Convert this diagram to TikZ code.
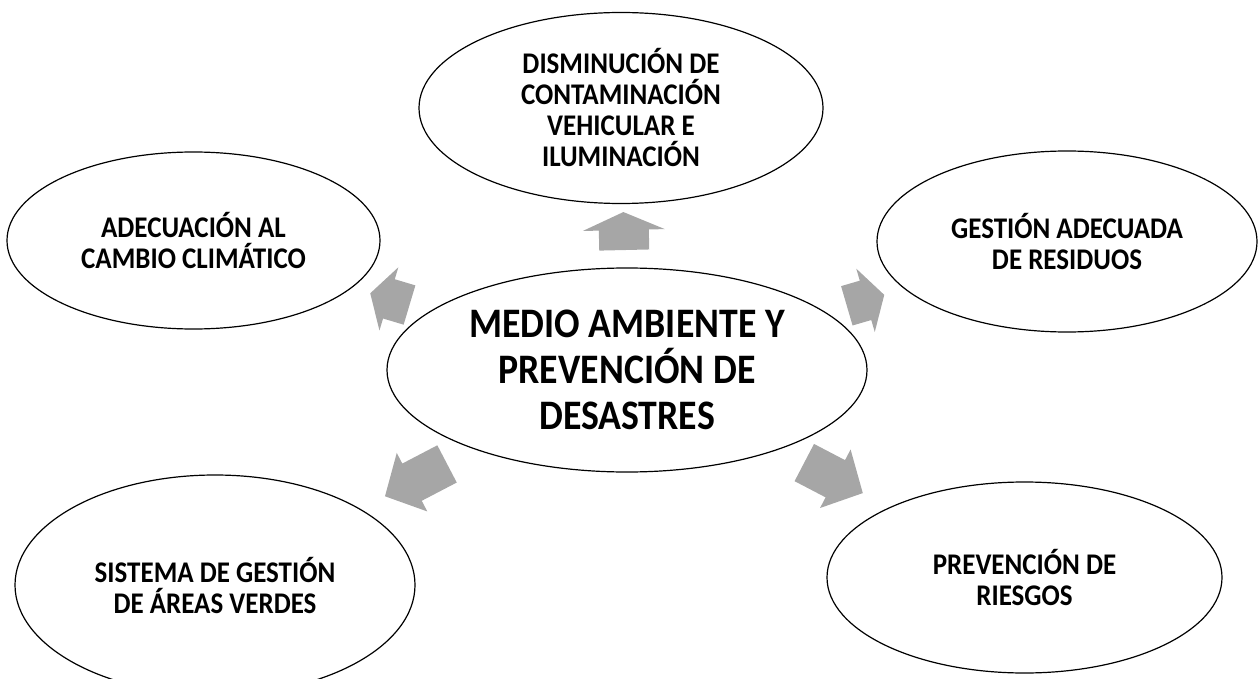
\documentclass[tikz,border=0pt]{standalone}
\usepackage{fontspec}
\setmainfont{Carlito}[FakeStretch=0.9]
\usetikzlibrary{shapes.geometric,positioning,calc}
\definecolor{arrowgray}{HTML}{A6A6A6}
% block arrow from node #1 towards node #2: tail at #3, tip at #4, half shaft #5, half head #6, head length #7
\newcommand{\fatarrow}[7]{%
  \coordinate (a0) at ($(#1)!#3!(#2)$);
  \coordinate (a1) at ($(#1)!#4!(#2)$);
  \coordinate (a2) at ($(a1)!#7!(a0)$);
  \fill[arrowgray] ($(a0)!#5!90:(a1)$) -- ($(a2)!#5!-90:(a0)$) -- ($(a2)!#6!-90:(a0)$) -- (a1)
    -- ($(a2)!#6!90:(a0)$) -- ($(a2)!#5!90:(a0)$) -- ($(a0)!#5!-90:(a1)$) -- cycle;
}
\begin{document}
\begin{tikzpicture}[x=1pt, y=-1pt, on grid, line width=1.2pt,
    main/.style = {draw, ellipse, inner sep=0pt, align=center, fill=white,
      font=\bfseries\fontsize{30}{31}\selectfont},
    hub/.style = {main, font=\bfseries\fontsize{42}{46}\selectfont}]
  \useasboundingbox (0,0) rectangle (1258,679);
  \node[hub, minimum width=480pt, minimum height=204pt] (mid) at (627,370) {MEDIO AMBIENTE Y\\PREVENCIÓN DE\\DESASTRES};
  \node[main, minimum width=404pt, minimum height=191pt] (top) [above left=262pt and 6pt of mid] {DISMINUCIÓN DE\\CONTAMINACIÓN\\VEHICULAR E\\ILUMINACIÓN};
  \node[main, minimum width=373pt, minimum height=177pt] (ul) [above left=129.5pt and 433.5pt of mid] {ADECUACIÓN AL\\CAMBIO CLIMÁTICO};
  \node[main, minimum width=380pt, minimum height=181pt] (ur) [above right=128.5pt and 440pt of mid] {GESTIÓN ADECUADA\\DE RESIDUOS};
  \node[main, minimum width=400pt, minimum height=220pt] (ll) [below left=215pt and 412pt of mid] {SISTEMA DE GESTIÓN\\DE ÁREAS VERDES};
  \node[main, minimum width=395pt, minimum height=191pt] (lr) [below right=207.5pt and 397.5pt of mid] {PREVENCIÓN DE\\RIESGOS};
  \fatarrow{mid}{top}{120pt}{158pt}{25pt}{41pt}{18pt}
  \fatarrow{mid}{ul}{227pt}{268pt}{20.5pt}{33pt}{19.5pt}
  \fatarrow{mid}{ur}{229pt}{268pt}{20.5pt}{33pt}{19.5pt}
  \fatarrow{mid}{ll}{203pt}{273pt}{21pt}{33pt}{30.5pt}
  \fatarrow{mid}{lr}{200pt}{266pt}{21pt}{33pt}{31pt}
\end{tikzpicture}
\end{document}
